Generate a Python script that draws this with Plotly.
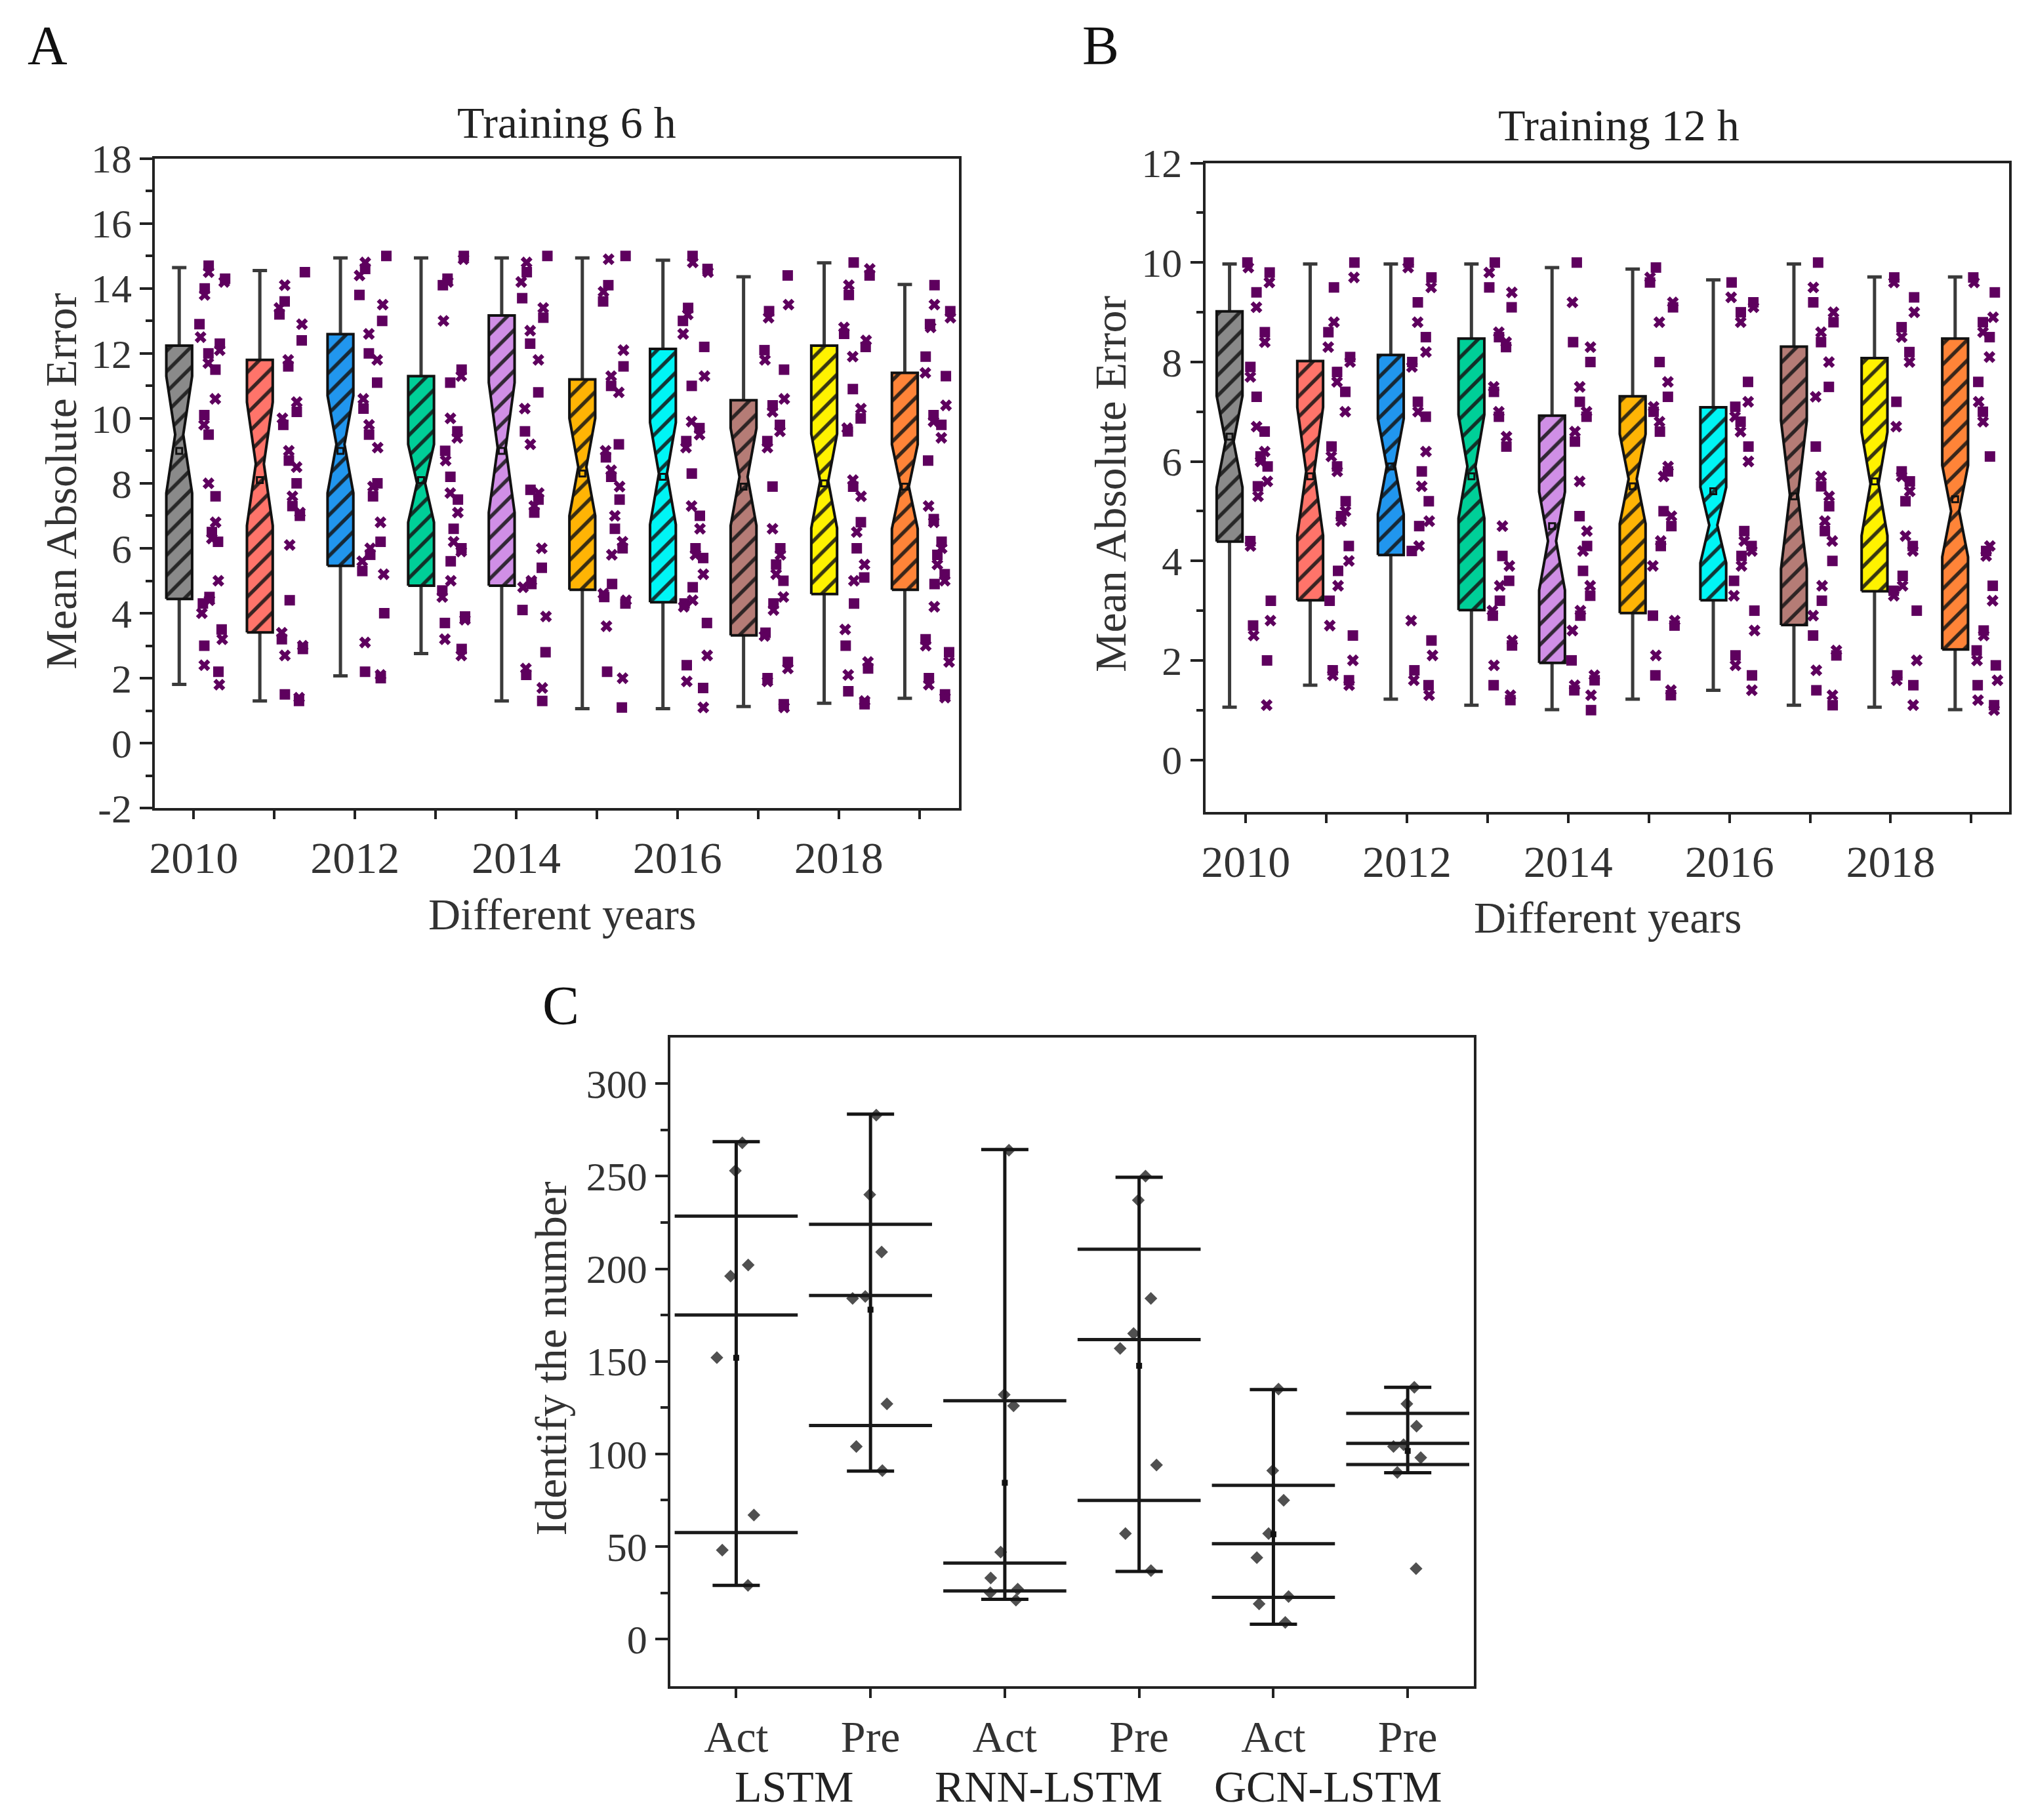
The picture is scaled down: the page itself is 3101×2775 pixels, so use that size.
import numpy as np
import plotly.graph_objects as go

SERIF = "Liberation Serif"
W, H = 3101, 2775
# measured placement of the page inside the captured picture
SHIFT_X, SHIFT_Y, SCALE_Y = 12, 37, 0.977

# ---------------- panels A and B : yearly notched boxes ----------------
years = list(range(2010, 2020))
box_colors = ["#8A8A8A", "#FF746A", "#2196EE", "#00CF98", "#D08FE6",
              "#FFB405", "#00F5F5", "#B57C76", "#FFF200", "#FF8438"]
point_color = "#5E005E"

# Training 6 h
a_q1 = [4.44, 3.41, 5.46, 4.85, 4.85, 4.72, 4.34, 3.32, 4.59, 4.72]
a_q3 = [12.24, 11.80, 12.59, 11.30, 13.17, 11.20, 12.14, 10.56, 12.24, 11.40]
a_med = [9.5, 8.6, 9.2, 8.0, 9.1, 8.5, 8.3, 8.2, 8.07, 7.9]
a_notch = [1.8, 1.9, 1.5, 1.2, 2.0, 1.5, 1.57, 1.5, 1.45, 1.3]
a_low = [1.81, 1.30, 2.07, 2.76, 1.30, 1.06, 1.06, 1.13, 1.23, 1.38]
a_high = [14.64, 14.55, 14.94, 14.94, 14.94, 14.94, 14.87, 14.36, 14.79, 14.12]
a_mean = [9.0, 8.1, 9.0, 8.1, 9.0, 8.3, 8.2, 7.9, 8.0, 7.9]
a_points = [
    [14.7, 14.5, 14.3, 14.2, 14.0, 13.8, 12.9, 12.5, 12.3, 12.1, 12.0, 11.7, 11.5, 10.6, 10.1, 9.8, 9.5,
     8.0, 7.6, 6.8, 6.5, 6.3, 6.2, 5.0, 4.5, 4.4, 4.3, 4.0, 3.5, 3.2, 3.0, 2.4, 2.2, 1.8],
    [14.5, 14.1, 13.6, 13.4, 13.2, 12.9, 12.4, 11.8, 11.6, 10.5, 10.2, 10.0, 9.8, 9.0, 8.7, 8.5, 8.0,
     7.6, 7.3, 7.1, 7.0, 6.1, 4.4, 3.4, 3.2, 3.0, 2.9, 2.7, 1.5, 1.4, 1.3],
    [15.0, 14.8, 14.6, 14.4, 13.8, 13.5, 13.0, 12.6, 12.0, 11.8, 11.1, 10.6, 10.3, 9.8, 9.5, 9.1, 8.0,
     7.9, 7.6, 6.8, 6.2, 6.0, 5.8, 5.6, 5.3, 5.2, 4.0, 3.1, 2.2, 2.1, 2.0],
    [15.0, 14.9, 14.3, 14.2, 14.1, 13.0, 11.5, 11.3, 11.1, 10.0, 9.6, 9.4, 9.0, 8.7, 8.2, 7.7, 7.5,
     7.1, 6.6, 6.2, 6.0, 5.9, 5.6, 5.0, 4.7, 4.5, 3.9, 3.8, 3.7, 3.2, 2.9, 2.7],
    [15.0, 14.8, 14.5, 14.2, 13.7, 13.4, 13.1, 12.7, 12.3, 11.8, 10.8, 10.3, 9.6, 9.2, 7.8, 7.7, 7.5,
     7.3, 7.1, 6.0, 5.4, 5.0, 4.9, 4.8, 4.1, 3.9, 2.8, 2.3, 2.1, 1.7, 1.3],
    [15.0, 14.9, 14.1, 13.9, 13.6, 12.1, 11.6, 11.3, 11.0, 10.8, 9.2, 9.0, 8.8, 8.4, 8.2, 7.9, 7.5,
     7.0, 6.6, 6.2, 6.0, 5.8, 4.9, 4.6, 4.5, 4.4, 4.3, 3.6, 2.2, 2.0, 1.1],
    [15.0, 14.8, 14.6, 14.5, 13.4, 13.2, 13.0, 12.6, 12.2, 11.3, 11.0, 9.9, 9.7, 9.5, 9.3, 9.1, 8.3,
     7.3, 7.0, 6.6, 6.0, 5.8, 5.7, 5.2, 4.8, 4.4, 4.3, 4.2, 3.7, 2.7, 2.4, 1.9, 1.7, 1.1],
    [14.4, 13.5, 13.3, 13.1, 12.1, 11.8, 11.5, 10.6, 10.4, 10.2, 9.8, 9.6, 9.3, 9.1, 7.9, 6.6, 6.0,
     5.8, 5.5, 5.2, 5.0, 4.5, 4.3, 4.1, 3.4, 3.3, 2.5, 2.3, 2.0, 1.9, 1.2, 1.1],
    [14.8, 14.6, 14.4, 14.1, 13.8, 12.8, 12.6, 12.4, 12.2, 11.9, 10.9, 10.3, 10.0, 9.7, 9.6, 8.1, 7.9,
     7.6, 6.8, 6.5, 6.0, 5.5, 5.1, 5.0, 4.3, 3.5, 3.0, 2.5, 2.3, 2.1, 1.6, 1.3, 1.2],
    [14.1, 13.5, 13.3, 13.1, 12.9, 12.8, 11.9, 11.4, 11.3, 10.4, 10.1, 9.9, 9.8, 9.4, 8.7, 7.3, 6.9,
     6.8, 6.2, 6.0, 5.8, 5.5, 5.2, 5.0, 4.9, 4.2, 3.2, 3.0, 2.8, 2.5, 2.0, 1.8, 1.5, 1.4],
]

# Training 12 h
b_q1 = [4.39, 3.21, 4.12, 3.01, 1.95, 2.95, 3.21, 2.71, 3.39, 2.22]
b_q3 = [9.02, 8.02, 8.14, 8.47, 6.92, 7.31, 7.09, 8.31, 8.08, 8.47]
b_med = [6.4, 5.8, 5.9, 5.9, 4.4, 5.65, 4.72, 5.33, 5.55, 5.0]
b_notch = [0.92, 1.29, 0.96, 1.04, 0.99, 0.9, 0.76, 1.49, 1.04, 0.92]
b_low = [1.06, 1.50, 1.22, 1.10, 1.01, 1.22, 1.40, 1.10, 1.06, 1.01]
b_high = [9.97, 9.97, 9.97, 9.97, 9.90, 9.87, 9.65, 9.97, 9.71, 9.71]
b_mean = [6.5, 5.7, 5.9, 5.7, 4.7, 5.5, 5.4, 5.3, 5.6, 5.24]
b_points = [
    [10.0, 9.9, 9.8, 9.6, 9.4, 9.1, 8.6, 8.4, 7.9, 7.7, 7.3, 6.7, 6.6, 6.2, 6.1, 6.0, 5.9, 5.6, 5.5,
     5.3, 4.4, 4.3, 3.2, 2.8, 2.7, 2.5, 2.0, 1.1],
    [10.0, 9.7, 9.5, 8.8, 8.6, 8.3, 8.1, 8.0, 7.8, 7.6, 7.4, 7.0, 6.3, 6.1, 5.9, 5.8, 5.2, 5.0, 4.9,
     4.8, 4.3, 4.0, 3.8, 3.5, 3.2, 2.7, 2.5, 2.0, 1.8, 1.7, 1.6, 1.5],
    [10.0, 9.9, 9.7, 9.5, 9.2, 8.8, 8.5, 8.2, 8.0, 7.9, 7.2, 7.0, 6.9, 6.2, 5.8, 5.5, 5.2, 4.8, 4.7,
     4.3, 4.2, 2.8, 2.4, 2.1, 1.8, 1.6, 1.5, 1.3],
    [10.0, 9.8, 9.5, 9.4, 9.1, 8.6, 8.5, 8.4, 8.3, 7.5, 7.4, 7.0, 6.9, 6.5, 6.3, 4.7, 4.1, 3.9, 3.6,
     3.5, 3.2, 3.0, 2.9, 2.4, 2.3, 1.9, 1.5, 1.3, 1.2],
    [10.0, 9.2, 8.4, 8.3, 8.0, 7.5, 7.2, 7.0, 6.9, 6.6, 6.4, 5.6, 4.9, 4.6, 4.3, 4.2, 3.8, 3.5, 3.3,
     3.0, 2.9, 2.6, 2.0, 1.7, 1.6, 1.5, 1.4, 1.3, 1.0],
    [9.9, 9.7, 9.6, 9.2, 9.1, 8.8, 8.0, 7.6, 7.3, 7.1, 7.0, 6.8, 6.6, 5.9, 5.8, 5.7, 5.0, 4.9, 4.7,
     4.4, 4.3, 3.9, 2.9, 2.8, 2.7, 2.1, 1.7, 1.4, 1.3],
    [9.6, 9.3, 9.2, 9.1, 9.0, 8.8, 7.6, 7.2, 7.1, 6.9, 6.8, 6.6, 6.3, 6.0, 4.6, 4.4, 4.3, 4.2, 4.1,
     3.9, 3.6, 3.3, 3.0, 2.6, 2.1, 1.9, 1.7, 1.4],
    [10.0, 9.5, 9.2, 9.0, 8.8, 8.6, 8.4, 8.0, 7.5, 7.3, 6.3, 5.7, 5.5, 5.3, 5.1, 4.8, 4.6, 4.4, 4.0,
     3.5, 3.2, 2.9, 2.5, 2.2, 2.1, 1.8, 1.4, 1.3, 1.1],
    [9.7, 9.6, 9.3, 9.0, 8.7, 8.5, 8.2, 8.0, 7.2, 6.7, 5.8, 5.7, 5.6, 5.4, 5.2, 4.5, 4.3, 4.2, 3.7,
     3.5, 3.4, 3.3, 3.0, 2.0, 1.7, 1.6, 1.5, 1.1],
    [9.7, 9.6, 9.4, 8.9, 8.8, 8.6, 8.5, 8.1, 7.6, 7.2, 7.0, 6.8, 6.1, 4.3, 4.2, 4.1, 3.5, 3.2, 2.6,
     2.5, 2.2, 2.0, 1.9, 1.6, 1.5, 1.2, 1.1, 1.0],
]

# ---------------- panel C : identified numbers ----------------
c_labels = ["Act", "Pre", "Act", "Pre", "Act", "Pre"]
c_models = ["LSTM", "RNN-LSTM", "GCN-LSTM"]
c_pos = [1, 2, 3, 4, 5, 6]
c_max = [268.6, 283.5, 264.4, 249.4, 134.7, 136.0]
c_min = [29.0, 90.7, 21.5, 36.5, 8.0, 89.8]
c_upper = [228.4, 224.0, 128.7, 210.5, 83.0, 121.9]
c_middle = [175.0, 185.6, 41.0, 161.7, 51.5, 105.7]
c_lower = [57.5, 115.3, 26.0, 74.9, 22.5, 94.3]
c_mean = [151.9, 177.9, 84.4, 147.6, 56.6, 101.6]
c_points = [
    [253, 268, 202, 196, 152, 67, 48, 29],
    [283, 240, 209, 184, 185, 127, 104, 91],
    [264, 132, 126, 47, 33, 27, 25, 21],
    [250, 237, 184, 165, 157, 94, 57, 37],
    [135, 91, 75, 57, 44, 23, 19, 9],
    [136, 127, 115, 105, 104, 98, 90, 38],
]


def px_x(x):
    return (x - SHIFT_X) / W


def px_y(y):
    return 1 - ((y - SHIFT_Y) / SCALE_Y) / H


fig = go.Figure()


def notched_outline(xc, q1, q3, med, ns, w, waist):
    hw, hn = w / 2, waist / 2
    xs = [xc - hw, xc + hw, xc + hw, xc + hn, xc + hw, xc + hw,
          xc - hw, xc - hw, xc - hn, xc - hw, xc - hw]
    ys = [q1, q1, med - ns, med, med + ns, q3, q3, med + ns, med, med - ns, q1]
    return xs, ys


def add_year_panel(xa, ya, q1, q3, med, notch, low, high, mean, points, box_off, pt_off):
    bx = np.array(years) - box_off
    med = np.array(med)
    # whiskers with caps
    fig.add_trace(go.Scatter(
        x=bx, y=med, mode="markers", marker=dict(color="rgba(0,0,0,0)", size=2),
        error_y=dict(type="data", symmetric=False, array=np.array(high) - med,
                     arrayminus=med - np.array(low), width=11, thickness=5, color="#3a3a3a"),
        xaxis=xa, yaxis=ya, hoverinfo="skip"))
    # hatched notched boxes
    for i, yr in enumerate(years):
        xs, ys = notched_outline(bx[i], q1[i], q3[i], med[i], notch[i], 0.32, 0.1)
        fig.add_trace(go.Scatter(
            x=xs, y=ys, mode="lines", fill="toself", fillcolor=box_colors[i],
            fillpattern=dict(shape="/", fgcolor="#151515", fgopacity=0.85, size=22,
                             solidity=0.25, fillmode="overlay"),
            line=dict(color="#111111", width=4), xaxis=xa, yaxis=ya, hoverinfo="skip"))
    fig.add_trace(go.Scatter(
        x=bx, y=mean, mode="markers",
        marker=dict(symbol="square-open", size=9, color="#111111", line=dict(width=3)),
        xaxis=xa, yaxis=ya, hoverinfo="skip"))
    # jittered raw values beside each box
    for i, yr in enumerate(years):
        vals = points[i]
        for sub, sym in ((vals[0::2], "square"), (vals[1::2], "x")):
            fig.add_trace(go.Box(
                y=sub, x=[yr + pt_off] * len(sub), width=0.36, boxpoints="all", jitter=1,
                pointpos=0, fillcolor="rgba(0,0,0,0)", line=dict(width=0, color="rgba(0,0,0,0)"),
                whiskerwidth=0, marker=dict(symbol=sym, size=16, color=point_color),
                xaxis=xa, yaxis=ya, hoverinfo="skip"))


add_year_panel("x", "y", a_q1, a_q3, a_med, a_notch, a_low, a_high, a_mean, a_points, 0.18, 0.23)
add_year_panel("x2", "y2", b_q1, b_q3, b_med, b_notch, b_low, b_high, b_mean, b_points, 0.20, 0.19)

# panel C
for i, vals in enumerate(c_points):
    fig.add_trace(go.Box(
        y=vals, x=[c_pos[i]] * len(vals), width=0.34, boxpoints="all", jitter=1, pointpos=0,
        fillcolor="rgba(0,0,0,0)", line=dict(width=0, color="rgba(0,0,0,0)"), whiskerwidth=0,
        marker=dict(symbol="diamond", size=15, color="#505050"),
        xaxis="x3", yaxis="y3", hoverinfo="skip"))
cm = np.array(c_mean)
fig.add_trace(go.Scatter(
    x=c_pos, y=cm, mode="markers", marker=dict(color="rgba(0,0,0,0)", size=2),
    error_y=dict(type="data", symmetric=False, array=np.array(c_max) - cm,
                 arrayminus=cm - np.array(c_min), width=36, thickness=5, color="#151515"),
    xaxis="x3", yaxis="y3", hoverinfo="skip"))
fig.add_trace(go.Scatter(
    x=c_pos * 3, y=c_upper + c_middle + c_lower, mode="markers",
    marker=dict(symbol="line-ew", size=134, line=dict(width=5, color="#1a1a1a")),
    xaxis="x3", yaxis="y3", hoverinfo="skip"))
fig.add_trace(go.Scatter(
    x=c_pos, y=c_mean, mode="markers",
    marker=dict(symbol="square", size=9, color="#111111"),
    xaxis="x3", yaxis="y3", hoverinfo="skip"))


def axis(**kw):
    base = dict(showline=True, linecolor="#222222", linewidth=4, mirror=True, ticks="outside",
                tickcolor="#222222", tickwidth=4, showgrid=False, zeroline=False,
                tickfont=dict(family=SERIF, size=62, color="#333333"))
    base.update(kw)
    return base


minor_x = dict(tickvals=years, ticklen=13, tickwidth=4, tickcolor="#222222", ticks="outside")
a_yt = list(range(-2, 19, 2))
b_yt = list(range(0, 13, 2))
c_yt = list(range(0, 301, 50))
big_ticks = dict(family=SERIF, size=68, color="#333333")

fig.update_layout(
    width=W, height=H, margin=dict(l=0, r=0, t=0, b=0),
    paper_bgcolor="white", plot_bgcolor="white", showlegend=False, boxmode="overlay",
    font=dict(family=SERIF, color="#333333"),
    xaxis=axis(domain=[px_x(232), px_x(1461)], anchor="y", range=[2009.52, 2019.49],
               tickvals=years[0::2], ticktext=[str(y) for y in years[0::2]], ticklen=13,
               minor=minor_x, tickfont=big_ticks),
    yaxis=axis(domain=[px_y(1230), px_y(238)], anchor="x", range=[-2, 18], tickvals=a_yt,
               ticktext=[str(v) for v in a_yt], ticklen=19,
               minor=dict(tickvals=list(range(-1, 18, 2)), ticklen=10, tickwidth=4,
                          tickcolor="#222222", ticks="outside")),
    xaxis2=axis(domain=[px_x(1838), px_x(3067)], anchor="y2", range=[2009.5, 2019.47],
                tickvals=years[0::2], ticktext=[str(y) for y in years[0::2]], ticklen=13,
                minor=minor_x, tickfont=big_ticks),
    yaxis2=axis(domain=[px_y(1236), px_y(245)], anchor="x2", range=[-1.05, 12], tickvals=b_yt,
                ticktext=[str(v) for v in b_yt], ticklen=19,
                minor=dict(tickvals=list(range(1, 12, 2)), ticklen=10, tickwidth=4,
                           tickcolor="#222222", ticks="outside")),
    xaxis3=axis(domain=[px_x(1020), px_x(2248)], anchor="y3", range=[0.51, 6.49], tickvals=c_pos,
                ticktext=c_labels, ticklen=14, tickfont=big_ticks),
    yaxis3=axis(domain=[px_y(2571), px_y(1580)], anchor="x3", range=[-25.5, 325], tickvals=c_yt,
                ticktext=[str(v) for v in c_yt], ticklen=19,
                minor=dict(tickvals=list(range(25, 300, 50)), ticklen=11, tickwidth=4,
                           tickcolor="#222222", ticks="outside")),
)

title_font = dict(family=SERIF, size=68, color="#222222")
axis_font = dict(family=SERIF, size=68, color="#333333")
letter_font = dict(family=SERIF, size=84, color="#111111")
notes = [
    ("A", 68, 66, letter_font, 0), ("B", 1678, 66, letter_font, 0),
    ("C", 852, 1532, letter_font, 0),
    ("Training 6 h", 861, 183, title_font, 0), ("Training 12 h", 2470, 187, title_font, 0),
    ("Mean Absolute Error", 88, 731, axis_font, -90),
    ("Mean Absolute Error", 1693, 735, axis_font, -90),
    ("Different years", 854, 1392, axis_font, 0), ("Different years", 2453, 1397, axis_font, 0),
    ("Identify the number", 837, 2071, axis_font, -90),
]
for text, x, y, f, ang in notes:
    fig.add_annotation(text=text, x=px_x(x), y=px_y(y), xref="paper", yref="paper",
                       showarrow=False, font=f, textangle=ang, xanchor="center", yanchor="middle")
for name, xpos in zip(c_models, [1.43, 3.33, 5.41]):
    fig.add_annotation(text=name, x=xpos, y=px_y(2724), xref="x3", yref="paper", showarrow=False,
                       font=dict(family=SERIF, size=68, color="#222222"),
                       xanchor="center", yanchor="middle")

fig.write_html("out.html")
